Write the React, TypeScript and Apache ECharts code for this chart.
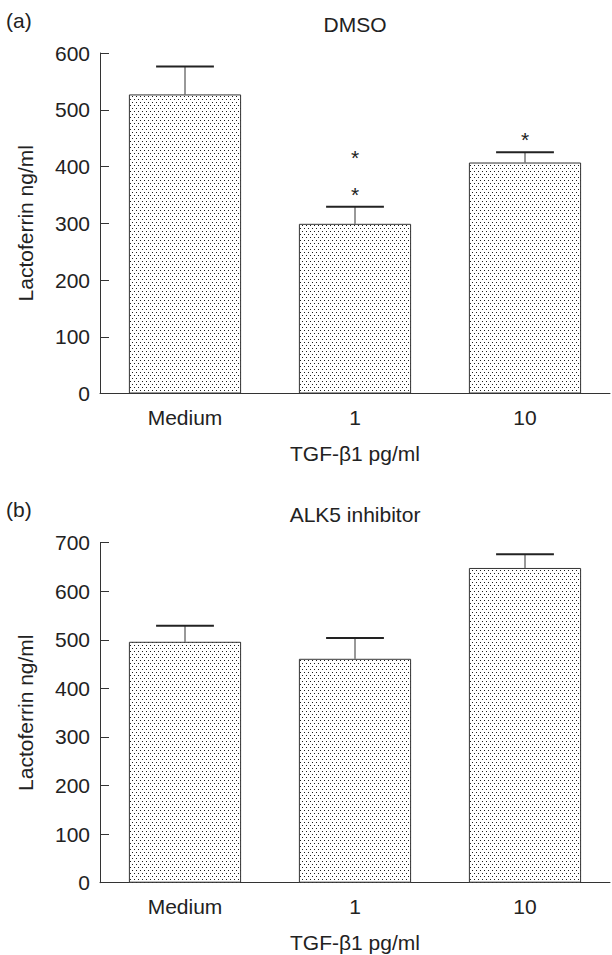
import React, { useEffect, useRef } from "react";
import * as echarts from "echarts";

const categories = ["Medium", "1", "10"];
const dmsoMeans = [527, 299, 407];
const dmsoErrTop = [576, 329, 425];
const dmsoStars: [number, number][] = [
  [1, 425],
  [1, 360],
  [2, 457],
];
const alkMeans = [496, 461, 648];
const alkErrTop = [529, 504, 676];
const dmsoMax = 600;
const alkMax = 700;
const tickStep = 100;

const FONT = "'Liberation Sans', Arial, Helvetica, sans-serif";
const INK = "#222";

function makePattern(): HTMLCanvasElement {
  const c = document.createElement("canvas");
  c.width = 4;
  c.height = 6;
  const ctx = c.getContext("2d")!;
  ctx.fillStyle = "#ffffff";
  ctx.fillRect(0, 0, 4, 6);
  ctx.fillStyle = "#1e1e1e";
  ctx.fillRect(0, 0, 1, 1);
  ctx.fillRect(2, 3, 1, 1);
  return c;
}

export default function App() {
  const ref = useRef<HTMLDivElement>(null);
  useEffect(() => {
    if (!ref.current) return;
    const chart = echarts.init(ref.current, null, { renderer: "svg" });
    const pat = makePattern();
    const fill: any = { image: pat, repeat: "repeat", imageWidth: 4, imageHeight: 6 };

    const yAxisCommon = (max: number, gridIndex: number) => ({
      type: "value",
      gridIndex,
      min: 0,
      max,
      interval: tickStep,
      name: "Lactoferrin ng/ml",
      nameLocation: "middle",
      nameGap: 64,
      nameTextStyle: { fontSize: 21, fontFamily: FONT, color: INK },
      axisLine: { show: true, lineStyle: { color: "#333", width: 1 } },
      axisTick: { show: true, inside: true, length: 9, lineStyle: { color: "#333" } },
      axisLabel: { fontSize: 21, fontFamily: FONT, color: INK, margin: 10 },
      splitLine: { show: false },
    });
    const xAxisCommon = (gridIndex: number) => ({
      type: "category",
      gridIndex,
      data: categories,
      name: "TGF-β1 pg/ml",
      nameLocation: "middle",
      nameGap: 49,
      nameTextStyle: { fontSize: 21, fontFamily: FONT, color: INK },
      axisLine: { show: true, lineStyle: { color: "#333", width: 1 } },
      axisTick: { show: false },
      axisLabel: { fontSize: 21, fontFamily: FONT, color: INK, margin: 13 },
      splitLine: { show: false },
    });

    const errSeries = (means: number[], tops: number[], idx: number) => ({
      type: "custom",
      xAxisIndex: idx,
      yAxisIndex: idx,
      z: 3,
      data: means.map((m, i) => [i, m, tops[i]]),
      renderItem: (params: any, api: any) => {
        const x = api.value(0);
        const lo = api.coord([x, api.value(1)]);
        const hi = api.coord([x, api.value(2)]);
        const half = api.size([1, 0])[0] * 0.17;
        return {
          type: "group",
          children: [
            {
              type: "line",
              shape: { x1: lo[0], y1: lo[1], x2: hi[0], y2: hi[1] },
              style: { stroke: "#333", lineWidth: 1 },
            },
            {
              type: "line",
              shape: { x1: hi[0] - half, y1: hi[1], x2: hi[0] + half, y2: hi[1] },
              style: { stroke: "#222", lineWidth: 2 },
            },
          ],
        };
      },
    });

    const barSeries = (vals: number[], idx: number) => ({
      type: "bar",
      xAxisIndex: idx,
      yAxisIndex: idx,
      data: vals,
      barWidth: "66%",
      itemStyle: { color: fill, borderColor: "#333", borderWidth: 1 },
    });

    const titleText = (text: string, x: number, y: number, align: string) => ({
      type: "text",
      x,
      y,
      style: {
        text,
        fontSize: 21,
        fontFamily: FONT,
        fill: INK,
        textAlign: align,
        align,
        textVerticalAlign: "middle",
        verticalAlign: "middle",
      },
    });

    chart.setOption({
      animation: false,
      backgroundColor: "#ffffff",
      grid: [
        { left: 100, top: 53, width: 510, height: 340.5 },
        { left: 100, top: 542.7, width: 510, height: 340 },
      ],
      xAxis: [xAxisCommon(0), xAxisCommon(1)],
      yAxis: [yAxisCommon(dmsoMax, 0), yAxisCommon(alkMax, 1)],
      graphic: [
        titleText("(a)", 6, 20, "left"),
        titleText("DMSO", 355, 24.5, "center"),
        titleText("(b)", 6, 509.5, "left"),
        titleText("ALK5 inhibitor", 355, 514, "center"),
      ],
      series: [
        barSeries(dmsoMeans, 0),
        errSeries(dmsoMeans, dmsoErrTop, 0),
        {
          type: "custom",
          xAxisIndex: 0,
          yAxisIndex: 0,
          z: 4,
          data: dmsoStars,
          renderItem: (params: any, api: any) => {
            const p = api.coord([api.value(0), api.value(1)]);
            return {
              type: "text",
              x: p[0],
              y: p[1] + 5,
              style: {
                text: "*",
                fontSize: 21,
                fontFamily: FONT,
                fill: INK,
                textAlign: "center",
                align: "center",
                textVerticalAlign: "middle",
                verticalAlign: "middle",
              },
            };
          },
        },
        barSeries(alkMeans, 1),
        errSeries(alkMeans, alkErrTop, 1),
      ],
    });
    return () => chart.dispose();
  }, []);
  return (
    <div
      ref={ref}
      style={{ position: "fixed", left: 0, top: 0, width: 612, height: 955, background: "#fff" }}
    />
  );
}
